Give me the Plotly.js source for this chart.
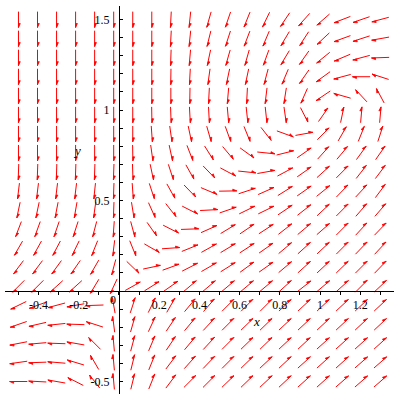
<!DOCTYPE html>
<html>
<head>
<meta charset="utf-8">
<script src="https://cdn.plot.ly/plotly-3.0.1.min.js"></script>
<style>html,body{margin:0;padding:0;background:#fff}#plot{width:400px;height:400px}</style>
</head>
<body>
<div id="plot"></div>
<script>
// grid of the vector field (20 x 20)
const xs = [-0.5,-0.4053,-0.3105,-0.2158,-0.1211,-0.0263,0.0684,0.1632,0.2579,0.3526,0.4474,0.5421,0.6368,0.7316,0.8263,0.9211,1.0158,1.1105,1.2053,1.3];
const ys = [-0.5,-0.3947,-0.2895,-0.1842,-0.0789,0.0263,0.1316,0.2368,0.3421,0.4474,0.5526,0.6579,0.7632,0.8684,0.9737,1.0789,1.1842,1.2895,1.3947,1.5];

// arrow directions (degrees, as seen on screen, 0 = right, 90 = up), one array per row
const row19 = [-90,-90,-90,-90,-90,-90,-90,-90,-93,-96,-106,-109,-112,-116,-124,-132,-139,-159,-161,-165];
const row18 = [-90,-90,-90,-90,-90,-90,-90,-90,-93,-96,-104,-108,-111,-113,-121,-123,-137,-160,-162,-170];
const row17 = [-90,-90,-90,-90,-90,-90,-90,-90,-92,-95,-102,-106,-106,-110,-121,-125,-141,-157,-165,-178];
const row16 = [-90,-90,-90,-90,-90,-90,-90,-90,-91,-93,-98,-102,-102,-105,-113,-125,-144,-165,180,162];
const row15 = [-90,-90,-90,-90,-90,-90,-90,-90,-90,-91,-93,-95,-93,-97,-99,-114,-146,164,133,118];
const row14 = [-90,-90,-90,-90,-90,-90,-90,-89,-88,-87,-87,-85,-84,-84,-82,-63,55,78,85,85];
const row13 = [-90,-90,-90,-90,-90,-90,-90,-86,-82,-78,-74,-70,-68,-52,-20,10,45,60,68,72];
const row12 = [-90,-90,-90,-90,-90,-90,-89,-82,-78,-69,-58,-50,-36,-6,14,35,48,50,54,55];
const row11 = [-92,-92,-92,-92,-92,-92,-88,-78,-72,-61,-46,-28,-6,10,28,35,42,45,52,53];
const row10 = [-97,-97,-97,-97,-96,-92,-86,-72,-61,-46,-23,1,18,24,32,35,39,46,47,53];
const row9  = [-102,-102,-101,-100,-98,-92,-81,-66,-52,-27,3,19,26,26,34,38,43,45,49,49];
const row8  = [-111,-110,-109,-108,-105,-94,-75,-55,-27,2,24,31,34,33,38,40,41,45,47,46];
const row7  = [-120,-119,-118,-116,-112,-97,-68,-30,4,22,29,31,33,35,40,42,43,45,46,47];
const row6  = [-127,-127,-126,-125,-120,-105,-44,12,20,27,30,32,36,35,40,42,43,44,45,46];
const row5  = [-135,-135,-138,-138,-121,-115,29,32,35,40,40,40,40,40,42,38,40,42,45,43];
const row4  = [-154,-160,-165,-170,-178,100,72,64,60,50,49,45,45,45,43,43,43,43,43,43];
const row3  = [-161,-167,-174,178,162,97,74,65,56,50,47,45,44,44,43,43,43,43,43,43];
const row2  = [-169,-175,178,170,135,95,75,67,56,50,47,45,44,44,43,43,42,42,42,42];
const row1  = [-172,-178,175,163,120,95,76,68,53,48,46,45,44,43,43,42,42,42,41,41];
const row0  = [180,177,170,153,128,95,76,68,53,45,45,44,44,43,43,42,42,41,41,41];
const angleRows = [row0,row1,row2,row3,row4,row5,row6,row7,row8,row9,row10,row11,row12,row13,row14,row15,row16,row17,row18,row19];

// axis tick labels
const xTickVals = [-0.4,-0.2,0.2,0.4,0.6,0.8,1,1.2];
const xTickText = ['-0.4','-0.2','0.2','0.4','0.6','0.8','1','1.2'];
const yTickVals = [-0.5,0.5,1,1.5];
const yTickText = ['-0.5','0.5','1','1.5'];

const xRange = [-0.567, 1.368];
const yRange = [-0.569, 1.575];
const margin = {l:5, r:6, t:6, b:6};
const plotW = 400 - margin.l - margin.r;
const plotH = 400 - margin.t - margin.b;
const sx = plotW / (xRange[1]-xRange[0]);
const sy = plotH / (yRange[1]-yRange[0]);
const arrowLen = 0.088;   // data units
const headLen = 4, headW = 1.8; // px

const shaftX = [], shaftY = [], headX = [], headY = [];
for (let j = 0; j < ys.length; j++) {
  for (let i = 0; i < xs.length; i++) {
    const th = angleRows[j][i] * Math.PI / 180;
    const ux = Math.cos(th), uy = Math.sin(th);
    const Lpx = arrowLen / Math.hypot(ux / sx, uy / sy);
    const cx = xs[i], cy = ys[j];
    const tx = cx - ux * Lpx / 2 / sx, ty = cy - uy * Lpx / 2 / sy;
    const hx = cx + ux * Lpx / 2 / sx, hy = cy + uy * Lpx / 2 / sy;
    shaftX.push(tx, hx, null); shaftY.push(ty, hy, null);
    const nx = -uy, ny = ux;
    const bx = hx - ux * headLen / sx, by = hy - uy * headLen / sy;
    const wx = bx + nx * headW / sx, wy = by + ny * headW / sy;
    headX.push(hx, wx, bx, hx, null); headY.push(hy, wy, by, hy, null);
  }
}

const data = [
  {type:'scatter', mode:'lines', x:shaftX, y:shaftY, line:{color:'#ff0000', width:1}, hoverinfo:'skip', connectgaps:false},
  {type:'scatter', mode:'lines', x:headX, y:headY, line:{color:'#ff0000', width:0.8}, fill:'toself', fillcolor:'#ff0000', hoverinfo:'skip', connectgaps:false}
];

const tickFont = {family:'Liberation Serif, Times New Roman, serif', size:12, color:'#000'};
const layout = {
  width:400, height:400, margin:margin, showlegend:false,
  paper_bgcolor:'#fff', plot_bgcolor:'#fff',
  xaxis:{range:xRange, anchor:'free', position:(0-yRange[0])/(yRange[1]-yRange[0]),
    showline:true, linecolor:'#000', linewidth:1, showgrid:false, zeroline:false,
    tickmode:'array', tickvals:xTickVals, ticktext:xTickText, ticks:'outside', ticklen:3, tickcolor:'#000', tickwidth:1,
    tickfont:tickFont,
    minor:{tickmode:'linear', tick0:0, dtick:0.1, ticks:'outside', ticklen:3, tickcolor:'#000', tickwidth:1, showgrid:false}},
  yaxis:{range:yRange, anchor:'free', position:(0-xRange[0])/(xRange[1]-xRange[0]),
    showline:true, linecolor:'#000', linewidth:1, showgrid:false, zeroline:false,
    tickmode:'array', tickvals:yTickVals, ticktext:yTickText, ticks:'inside', ticklen:3, tickcolor:'#000', tickwidth:1,
    ticklabelstandoff:7, tickfont:tickFont,
    minor:{tickmode:'linear', tick0:0, dtick:0.1, ticks:'inside', ticklen:3, tickcolor:'#000', tickwidth:1, showgrid:false}},
  annotations:[
    {x:-0.03, y:-0.05, xref:'x', yref:'y', text:'0', showarrow:false, font:tickFont},
    {x:0.682, y:-0.166, xref:'x', yref:'y', text:'<i>x</i>', showarrow:false, font:{family:'Liberation Serif, serif', size:13, color:'#000'}},
    {x:-0.209, y:0.779, xref:'x', yref:'y', text:'<i>y</i>', showarrow:false, font:{family:'Liberation Serif, serif', size:13, color:'#000'}}
  ]
};
Plotly.newPlot('plot', data, layout, {staticPlot:true, displayModeBar:false});
</script>
</body>
</html>
